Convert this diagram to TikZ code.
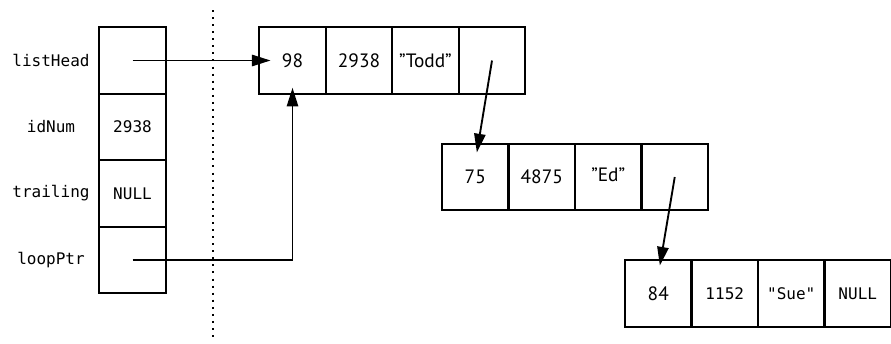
\documentclass[tikz,border=0pt]{standalone}
\usepackage{fontspec}
\setmainfont{PT Sans}
\newfontfamily\monof{DejaVu Sans Mono}
\usetikzlibrary{arrows.meta}
\newcommand{\dq}{\char"22\relax}
\begin{document}
\begin{tikzpicture}[x=0.75pt,y=-0.75pt,
  cell/.style={draw,line width=1.8pt,rectangle,minimum width=49.9pt,minimum height=49.9pt,inner sep=0pt,outer sep=0pt,font=\fontsize{14.5}{16}\selectfont},
  mcell/.style={cell,font=\monof\fontsize{12}{14}\selectfont},
  lbl/.style={font=\monof\fontsize{12}{14}\selectfont,inner sep=0pt},
  arr/.style={line width=1.4pt,-{Triangle[length=14pt,width=8.5pt]}}]
\useasboundingbox (0,0) rectangle (891,343);
% dotted separator
\coordinate (dtop) at (213,10);
\coordinate (dbot) at (213,341);
\draw[line width=1.8pt,dash pattern=on 1.5pt off 3.8pt] (dtop) -- (dbot);
% left column
\node[mcell] (l1) at (132.5,60.5) {};
\node[mcell] (l2) at (132.5,127) {2938};
\node[mcell] (l3) at (132.5,193.5) {NULL};
\node[mcell] (l4) at (132.5,260) {};
\node[lbl] (t1) at (51,60.5) {listHead};
\node[lbl] (t2) at (51,127) {idNum};
\node[lbl] (t3) at (51,193.5) {trailing};
\node[lbl] (t4) at (51,260) {loopPtr};
% node 1
\node[cell] (a1) at (292.5,60.5) {98};
\node[cell] (a2) at (359,60.5) {2938};
\node[cell] (a3) at (425.5,60.5) {\dq Todd\dq};
\node[cell] (a4) at (492,60.5) {};
% node 2
\node[cell] (b1) at (475.25,177) {75};
\node[cell] (b2) at (541.75,177) {4875};
\node[cell] (b3) at (608.25,177) {\raisebox{4pt}{\dq Ed\dq}};
\node[cell] (b4) at (674.75,177) {};
% node 3
\node[cell] (c1) at (658.25,293.5) {84};
\node[mcell] (c2) at (724.75,293.5) {1152};
\node[mcell] (c3) at (791.25,293.5) {"Sue"};
\node[mcell] (c4) at (857.75,293.5) {NULL};
% pointers
\draw[arr] (l1.center) -- ([xshift=8.5pt]a1.west);
\draw[arr] (l4.center) -| ([yshift=4.5pt]a1.south);
\draw[arr] (a4.center) -- ([xshift=1.2pt,yshift=-6.5pt]b1.north);
\draw[arr] (b4.center) -- ([xshift=1.2pt,yshift=-4pt]c1.north);
\end{tikzpicture}
\end{document}
